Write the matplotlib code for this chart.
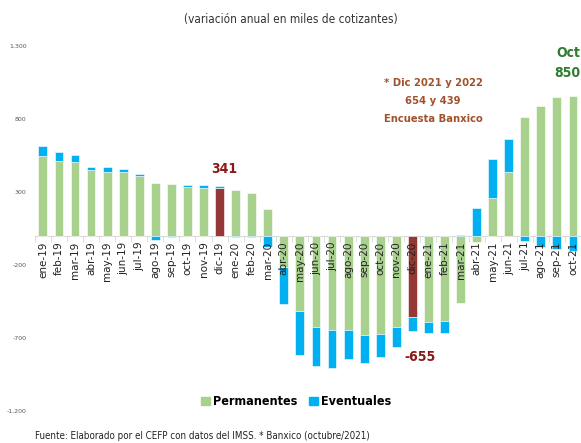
import numpy as np
import matplotlib.pyplot as plt
from matplotlib.patches import Patch

meses = ['ene-19','feb-19','mar-19','abr-19','may-19','jun-19','jul-19','ago-19','sep-19','oct-19','nov-19','dic-19',
         'ene-20','feb-20','mar-20','abr-20','may-20','jun-20','jul-20','ago-20','sep-20','oct-20','nov-20','dic-20',
         'ene-21','feb-21','mar-21','abr-21','may-21','jun-21','jul-21','ago-21','sep-21','oct-21']
permanentes = [545, 513, 504, 451, 438, 438, 410, 362, 355, 337, 326, 326,
               312, 292, 184, -215, -512, -626, -644, -644, -676, -669, -626, -557,
               -592, -583, -459, -42, 260, 438, 812, 888, 949, 955]
eventuales = [73, 59, 48, 19, 32, 18, 12, -30, -8, 10, 20, 15,
              -8, -8, -76, -249, -306, -263, -263, -199, -192, -162, -135, -98,
              -75, -84, 8, 191, 267, 228, -37, -76, -87, -105]
destacados = ['dic-19', 'dic-20']

verde = '#A9D18E'
azul = '#00B0F0'
rojo = '#953735'

fig = plt.figure(figsize=(5.81, 4.43), dpi=100)
ax = fig.add_axes([0.060, 0.0722, 0.940, 0.8238])

x = np.arange(len(meses))
perm = np.array(permanentes)
ev = np.array(eventuales)
colores = [rojo if m in destacados else verde for m in meses]
ax.bar(x, perm, width=0.55, color=colores, edgecolor='white', linewidth=0.4, zorder=2)
# las eventuales se apilan sobre las permanentes solo si tienen el mismo signo
base = np.where(np.sign(ev) == np.sign(perm), perm, 0)
ax.bar(x, ev, bottom=base, width=0.55, color=azul, edgecolor='white', linewidth=0.4, zorder=2)

ax.set_xlim(-0.5, 33.2)
ax.set_ylim(-1200, 1300)
ax.set_yticks([-1200, -700, -200, 300, 800, 1300])
ax.set_yticklabels(['-1,200', '-700', '-200', '300', '800', '1,300'], fontsize=4.5, color='#595959')
ax.tick_params(axis='y', length=0, pad=6)

for s in ['top', 'right', 'left']:
    ax.spines[s].set_visible(False)
ax.spines['bottom'].set_position(('data', 0))
ax.spines['bottom'].set_color('#D9D9D9')
ax.spines['bottom'].set_zorder(1)
ax.set_xticks(x)
ax.set_xticklabels(meses, rotation=90, fontsize=7.5, color='#222222')
ax.tick_params(axis='x', length=0, pad=4)
ax.set_xticks(np.arange(-0.5, len(meses), 1), minor=True)
ax.tick_params(axis='x', which='minor', length=4, color='#D9D9D9')
ax.xaxis.set_zorder(3)

fig.text(0.5, 0.955, '(variación anual en miles de cotizantes)', ha='center', va='center',
         fontsize=8.5, color='#333333', fontstretch='condensed')

fuente = 'DejaVu Sans'
ax.text(11.3, 460, '341', ha='center', va='center', color='#8B1A1A', fontsize=10, fontweight='bold',
        family=fuente, fontstretch='condensed')
ax.text(23.5, -830, '-655', ha='center', va='center', color='#8B1A1A', fontsize=10, fontweight='bold',
        family=fuente, fontstretch='condensed')
ax.text(24.3, 925, '* Dic 2021 y 2022\n654 y 439\nEncuesta Banxico', ha='center', va='center',
        color='#A0522D', fontsize=8, fontweight='bold', family=fuente, fontstretch='condensed', linespacing=2.0)
ax.text(0.998, 1250, 'Oct', ha='right', va='center', color='#2E7D32', fontsize=10, fontweight='bold',
        family=fuente, fontstretch='condensed', transform=ax.get_yaxis_transform())
ax.text(0.998, 1114, '850', ha='right', va='center', color='#2E7D32', fontsize=10, fontweight='bold',
        family=fuente, fontstretch='condensed', transform=ax.get_yaxis_transform())

handles = [Patch(color=verde, label='Permanentes'), Patch(color=azul, label='Eventuales')]
fig.legend(handles=handles, loc='center', bbox_to_anchor=(0.51, 0.093), ncol=2, frameon=False,
           handlelength=0.7, handleheight=0.7, handletextpad=0.3, columnspacing=0.9,
           prop={'weight': 'bold', 'size': 9, 'stretch': 'condensed'})

fig.text(0.06, 0.015, 'Fuente: Elaborado por el CEFP con datos del IMSS. * Banxico (octubre/2021)',
         ha='left', va='center', fontsize=7, color='#222222', fontstretch='condensed')

fig.savefig('out.png', dpi=100)
